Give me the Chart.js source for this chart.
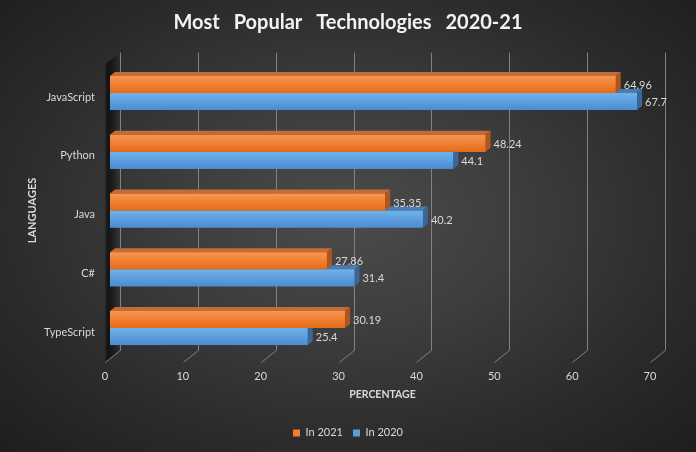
<!DOCTYPE html>
<html>
<head>
<meta charset="utf-8">
<script src="https://cdn.jsdelivr.net/npm/chart.js@4.4.0/dist/chart.umd.min.js"></script>
<style>
  html, body { margin: 0; padding: 0; background: #222; }
  #wrap {
    width: 696px; height: 452px; position: relative;
    background: radial-gradient(ellipse farthest-corner at 50% 48%, #4b4b4b 0%, #3d3d3d 35%, #2b2b2b 70%, #1e1e1e 100%);
  }
</style>
</head>
<body>
<div id="wrap"><canvas id="techChart" width="696" height="452"></canvas></div>
<script>
// Chart data
const languages = ['JavaScript', 'Python', 'Java', 'C#', 'TypeScript'];
const share2021 = [64.96, 48.24, 35.35, 27.86, 30.19];
const share2020 = [67.7, 44.1, 40.2, 31.4, 25.4];
const xTicks = [0, 10, 20, 30, 40, 50, 60, 70];

// 3D look: front gradient, lid and side colors per dataset
const faceColors = [
    { top: '#f9954f', bottom: '#e66b18', lid: '#c26c3a', side: '#b0561c' },   // In 2021
    { top: '#6fb2ea', bottom: '#4a8cd2', lid: '#4a7cb1', side: '#3a6698' }    // In 2020
];
const depth = { dx: 5, dy: 4 };
const textColor = '#d9d9d9';

Chart.defaults.font.family = 'Lato';

// wider word gaps in the title, like the original
const titleSpacingPlugin = {
    id: 'titleSpacing',
    beforeDraw(chart) {
        const tb = chart.titleBlock;
        if (!tb || tb._spaced) return;
        const draw = tb.draw.bind(tb);
        tb.draw = function (area) {
            const ctx = chart.ctx;
            const prev = ctx.wordSpacing;
            ctx.wordSpacing = '9px';
            draw(area);
            ctx.wordSpacing = prev;
        };
        tb._spaced = true;
    }
};

// back wall grid lines, floor diagonals and left wall shading
const floorPlugin = {
    id: 'floor',
    beforeDatasetsDraw(chart) {
        const { ctx, chartArea } = chart;
        const x = chart.scales.x;
        const backTop = chartArea.top - 11;
        const backBottom = chartArea.bottom - 7;
        const front = chartArea.bottom + 5;
        const x0 = x.getPixelForValue(0);

        ctx.save();
        const wall = ctx.createLinearGradient(x0 - 7, 0, x0 + 10, 0);
        wall.addColorStop(0, 'rgba(0,0,0,0)');
        wall.addColorStop(0.3, 'rgba(0,0,0,0.6)');
        wall.addColorStop(0.6, 'rgba(0,0,0,0.4)');
        wall.addColorStop(1, 'rgba(0,0,0,0)');
        ctx.fillStyle = wall;
        ctx.beginPath();
        ctx.moveTo(x0 + 10, backTop);
        ctx.lineTo(x0 + 10, backBottom);
        ctx.lineTo(x0 - 5, front);
        ctx.lineTo(x0 - 5, backTop + 12);
        ctx.closePath();
        ctx.fill();

        ctx.strokeStyle = '#828282';
        ctx.lineWidth = 1;
        x.ticks.forEach(t => {
            const px = Math.round(x.getPixelForValue(t.value)) + 0.5;
            ctx.beginPath();
            ctx.moveTo(px + 10, backTop);
            ctx.lineTo(px + 10, backBottom);
            ctx.lineTo(px - 5, front);
            ctx.stroke();
        });
        ctx.restore();
    }
};

// redraw bars with a lid and a side face, then the value labels
const bars3dPlugin = {
    id: 'bars3d',
    afterDatasetsDraw(chart) {
        const { ctx } = chart;
        const { dx, dy } = depth;
        ctx.save();
        for (let d = chart.data.datasets.length - 1; d >= 0; d--) {
            const c = faceColors[d];
            chart.getDatasetMeta(d).data.forEach(bar => {
                const { x, y, base, height } = bar.getProps(['x', 'y', 'base', 'height'], true);
                const top = y - height / 2;
                const bottom = y + height / 2;

                const g = ctx.createLinearGradient(0, top, 0, bottom);
                g.addColorStop(0, c.top);
                g.addColorStop(1, c.bottom);
                ctx.fillStyle = g;
                ctx.fillRect(base, top, x - base, height);

                ctx.fillStyle = c.lid;
                ctx.beginPath();
                ctx.moveTo(base, top);
                ctx.lineTo(base + dx, top - dy);
                ctx.lineTo(x + dx, top - dy);
                ctx.lineTo(x, top);
                ctx.closePath();
                ctx.fill();

                ctx.fillStyle = c.side;
                ctx.beginPath();
                ctx.moveTo(x, top);
                ctx.lineTo(x + dx, top - dy);
                ctx.lineTo(x + dx, bottom - dy);
                ctx.lineTo(x, bottom);
                ctx.closePath();
                ctx.fill();
            });
        }

        ctx.font = '11px Lato';
        ctx.fillStyle = textColor;
        ctx.textBaseline = 'middle';
        ctx.textAlign = 'left';
        chart.data.datasets.forEach((ds, d) => {
            chart.getDatasetMeta(d).data.forEach((bar, i) => {
                ctx.fillText(String(ds.data[i]), bar.x + 8, bar.y + 1);
            });
        });
        ctx.restore();
    }
};

new Chart(document.getElementById('techChart'), {
    type: 'bar',
    data: {
        labels: languages,
        datasets: [
            {
                label: 'In 2021',
                data: share2021,
                backgroundColor: '#f07f31',
                borderWidth: 0,
                yAxisID: 'y'
            },
            {
                label: 'In 2020',
                data: share2020,
                backgroundColor: '#5b9dd9',
                borderWidth: 0,
                yAxisID: 'y'
            }
        ]
    },
    options: {
        indexAxis: 'y',
        responsive: false,
        animation: false,
        layout: { padding: { top: 0, bottom: 3.6, left: 0, right: 0 } },
        datasets: {
            bar: { categoryPercentage: 0.58, barPercentage: 1.0 }
        },
        scales: {
            x: {
                min: 0,
                max: 70,
                afterBuildTicks: s => { s.ticks = xTicks.map(v => ({ value: v })); },
                ticks: { color: textColor, font: { size: 11 }, padding: 12, labelOffset: -5 },
                grid: { display: false, drawTicks: false },
                border: { display: false },
                title: {
                    display: true,
                    text: 'PERCENTAGE',
                    color: textColor,
                    font: { size: 10.5, weight: 'bold' },
                    padding: { top: 0, bottom: 16 }
                },
                afterFit: s => { s.height = 60; }
            },
            y: {
                ticks: { color: textColor, font: { size: 11 }, padding: 15, labelOffset: 4 },
                grid: { display: false, drawTicks: false },
                border: { display: false },
                title: {
                    display: true,
                    text: 'LANGUAGES',
                    color: textColor,
                    font: { size: 11, weight: 'bold' },
                    padding: { top: 26, bottom: 0 }
                },
                afterFit: s => { s.width = 110; }
            },
            y2: {
                type: 'category',
                axis: 'y',
                position: 'right',
                labels: languages,
                ticks: { display: false },
                grid: { display: false, drawTicks: false },
                border: { display: false },
                afterFit: s => { s.width = 41; }
            }
        },
        plugins: {
            title: {
                display: true,
                text: 'Most Popular Technologies 2020-21',
                color: '#f2f2f2',
                font: { size: 20, weight: 'bold' },
                padding: { top: 11, bottom: 28.6 }
            },
            legend: {
                position: 'bottom',
                labels: {
                    color: textColor,
                    font: { size: 11 },
                    boxWidth: 7,
                    boxHeight: 7
                }
            },
            tooltip: { enabled: false }
        }
    },
    plugins: [titleSpacingPlugin, floorPlugin, bars3dPlugin]
});
</script>
</body>
</html>
